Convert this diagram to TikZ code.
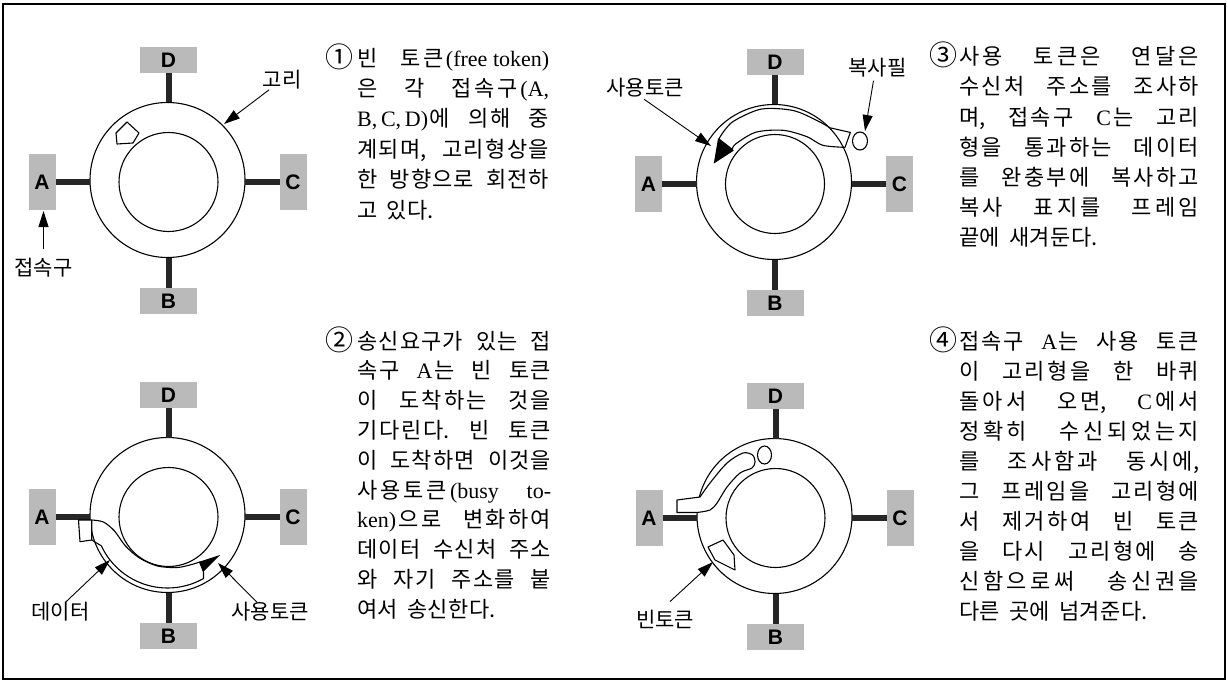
\documentclass[tikz,border=0pt]{standalone}
\usepackage{fontspec}
\setmainfont{Noto Sans CJK KR}
\newfontfamily\latf{Liberation Serif}
\newfontfamily\portf{Liberation Sans}
\usetikzlibrary{arrows.meta}
\newcommand\ltn[1]{{\latf #1}}
\ExplSyntaxOn
\bool_new:N \l__jl_first_bool
\cs_new_protected:Npn \__jl_items:nnn #1 #2 #3
  {
    \bool_set_true:N \l__jl_first_bool
    \tl_map_inline:nn {#3}
      {
        \str_if_eq:nnTF {##1} {|}
          { \skip_horizontal:n {#1} \bool_set_true:N \l__jl_first_bool }
          {
            \bool_if:NF \l__jl_first_bool { \skip_horizontal:n {#2} }
            ##1
            \bool_set_false:N \l__jl_first_bool
          }
      }
  }
\cs_new_protected:Npn \jline #1 #2
  { \hbox_to_wd:nn {#1} { \__jl_items:nnn {3pt plus 1fil} {0pt plus 0.12fil} {#2} } }
\cs_new_protected:Npn \jnat #1
  { \hbox:n { \__jl_items:nnn {9pt} {0.5pt} {#1} } }
\ExplSyntaxOff
\tikzset{
  ring/.style={circle, draw, line width=1.1pt, inner sep=0pt, outer sep=0pt, minimum size=155pt},
  innerring/.style={circle, draw, line width=1.1pt, inner sep=0pt, outer sep=0pt, minimum size=99pt},
  portbox/.style={fill=black!27, inner sep=0pt, outer sep=0pt, font=\portf\bfseries\fontsize{21}{21}\selectfont},
  porth/.style={portbox, minimum width=27pt, minimum height=56pt},
  portv/.style={portbox, minimum width=57pt, minimum height=26pt},
  stem/.style={line width=6pt, black!85},
  tok/.style={line width=1.1pt, line join=round},
  lab/.style={inner sep=0pt, font=\fontsize{21}{24}\selectfont},
  labarrow/.style={line width=0.9pt, -{Triangle[length=16pt,width=10pt]}},
  para/.style={anchor=base west, inner sep=0pt, font=\fontsize{22}{24}\selectfont},
  num/.style={anchor=base, inner sep=0pt, font=\fontsize{28}{28}\selectfont},
}
\newcommand\ringset[1]{%
  \node[portv] (D#1) at (1,-120) {D};
  \node[portv] (B#1) at (1,121) {B};
  \node[porth] (A#1) at (-125.5,2) {A};
  \node[porth] (C#1) at (125.5,2) {C};
  \node[ring] (R#1) at (0,0) {};
  \node[innerring] (I#1) at (1,2) {};
  \draw[stem] (D#1.south) -- (D#1.south |- R#1.north);
  \draw[stem] (B#1.north) -- (B#1.north |- R#1.south);
  \draw[stem] (A#1.east) -- (A#1.east -| R#1.west);
  \draw[stem] (C#1.west) -- (C#1.west -| R#1.east);
}
\begin{document}
\begin{tikzpicture}[x=1pt,y=-1pt]
\useasboundingbox (0,0) rectangle (1228,682);
\draw[line width=1.6pt] (3,4) rectangle (1225,679);

% ---------- diagram 1
\begin{scope}[shift={(167.5,180)}]
  \ringset{1}
  \draw[tok] (-50.5,-36) -- (-51.5,-47) -- (-40.5,-58) -- (-28.5,-47) -- (-34.5,-37) -- cycle;
\end{scope}
\node[lab] (goriL) at (282,80) {고리};
\coordinate (goriT) at (224,124);
\draw[labarrow] (goriL) -- (goriT);
\node[lab] (portL) at (43.5,268) {접속구};
\coordinate (portT) at (43.5,211);
\draw[labarrow] ([yshift=9pt]portL.north) -- (portT);

% ---------- diagram 2
\begin{scope}[shift={(167.5,515)}]
  \ringset{2}
  \draw[tok] plot[smooth] coordinates {(-75.8,5) (-64,7) (-53,16) (-42,31) (-28,43) (-10,51) (10,52.5) (26,49) (32,47)}
     -- (36,57) -- (36,63.5)
     -- plot[domain=61:155,samples=30] ({73*cos(\x)},{73*sin(\x)}) -- (-75.8,25);
  \draw[tok, fill=white] (-89,5) -- (-75.8,5) -- (-75.8,25) -- (-87.5,26.7) -- cycle;
  \fill (31.8,46.7) -- (52.5,40) -- (35.8,56.7) -- cycle;
\end{scope}
\node[lab] (dataL) at (60.5,612) {데이터};
\coordinate (dataT) at (110,560);
\draw[labarrow] ([xshift=5pt]dataL.north) -- (dataT);
\node[lab] (busyL2) at (270,612) {사용토큰};
\coordinate (busyT2) at (218,563);
\draw[labarrow] ([xshift=-13pt]busyL2.north) -- (busyT2);

% ---------- diagram 3
\begin{scope}[shift={(774,182)}]
  \ringset{3}
  \draw[tok] plot[smooth] coordinates {(218:70) (235:73) (260:74) (285:74) (305:75) (316:78)}
     -- (327:91) -- (334:79)
     -- plot[smooth] coordinates {(334:79) (323:61) (306:56) (280:52.5) (250:53) (225:54) (218:53)} -- cycle;
  \fill (218:71) -- (197:63) -- (218:51) -- cycle;
  \draw[tok] (86,-41) ellipse [x radius=7.5, y radius=9];
\end{scope}
\node[lab] (busyL3) at (645,87.5) {사용토큰};
\coordinate (busyT3) at (711,146);
\draw[labarrow] ([xshift=-1pt,yshift=-2pt]busyL3.south) -- (busyT3);
\node[lab] (copyL) at (877.5,68) {복사필};
\coordinate (copyT) at (865,131);
\draw[labarrow] ([xshift=-4pt,yshift=-3pt]copyL.south) -- (copyT);

% ---------- diagram 4
\begin{scope}[shift={(774.5,516)}]
  \ringset{4}
  \draw[tok, fill=white] (-97.5,-16) -- plot[smooth] coordinates {(-74.5,-19) (-64.5,-33) (-47.5,-53) (-31.5,-63) (-22,-61) (-19.5,-54) (-22.5,-48) (-34.5,-43) (-47.5,-29) (-57.5,-13) (-64.5,-6) (-77.5,-3.5)} -- (-97.5,-3.5) -- cycle;
  \draw[tok] (-10,-61) ellipse [x radius=7, y radius=9];
  \draw[tok] (-66.5,31) -- (-51.5,24) -- (-40.5,39) -- (-39.5,54) -- (-59.5,44) -- cycle;
\end{scope}
\node[lab] (freeL) at (665,619) {빈토큰};
\coordinate (freeT) at (713,562);
\draw[labarrow] ([xshift=5pt,yshift=8pt]freeL.north) -- (freeT);

% ---------- text 1
\node[num] (n1) at (339,68) {①};
\node[para] (t1a) at (357,67) {\jline{192pt}{빈|토큰{\ltn{(free token)}}}};
\node[para] (t1b) at (357,97) {\jline{192pt}{은|각|접속구{\ltn{(A,}}}};
\node[para] (t1c) at (357,127) {\jline{192pt}{{\ltn{B,\,C,\,D)}}에|의해|중}};
\node[para] (t1d) at (357,157.5) {\jline{192pt}{계되{며,}|고리형상을}};
\node[para] (t1e) at (357,187.5) {\jline{192pt}{한|방향으로|회전하}};
\node[para] (t1f) at (357,218) {\jnat{고|있{다.}}};

% ---------- text 2
\node[num] (n2) at (339,350) {②};
\node[para] (t2a) at (357,349) {\jline{194pt}{송신요구가|있는|접}};
\node[para] (t2b) at (357,378.8) {\jline{194pt}{속구|{\ltn{A}}는|빈|토큰}};
\node[para] (t2c) at (357,408.6) {\jline{194pt}{이|도착하는|것을}};
\node[para] (t2d) at (357,438.4) {\jline{194pt}{기다린{다.}|빈|토큰}};
\node[para] (t2e) at (357,468.2) {\jline{194pt}{이|도착하면|이것을}};
\node[para] (t2f) at (357,498) {\jline{194pt}{사용토큰{\ltn{(busy}}|{\ltn{to-}}}};
\node[para] (t2g) at (357,527.8) {\jline{194pt}{{\ltn{ken)}}으로|변화하여}};
\node[para] (t2h) at (357,557.6) {\jline{194pt}{데이터|수신처|주소}};
\node[para] (t2i) at (357,587.4) {\jline{194pt}{와|자기|주소를|붙}};
\node[para] (t2j) at (357,617.2) {\jnat{여서|송신한{다.}}};

% ---------- text 3
\node[num] (n3) at (943.5,66) {③};
\node[para] (t3a) at (959,65) {\jline{240pt}{사용|토큰은|연달은}};
\node[para] (t3b) at (959,95) {\jline{240pt}{수신처|주소를|조사하}};
\node[para] (t3c) at (959,125) {\jline{240pt}{{며,}|접속구|{\ltn{C}}는|고리}};
\node[para] (t3d) at (959,155) {\jline{240pt}{형을|통과하는|데이터}};
\node[para] (t3e) at (959,185) {\jline{240pt}{를|완충부에|복사하고}};
\node[para] (t3f) at (959,215) {\jline{240pt}{복사|표지를|프레임}};
\node[para] (t3g) at (959,245) {\jnat{끝에|새겨둔{다.}}};

% ---------- text 4
\node[num] (n4) at (943.5,350) {④};
\node[para] (t4a) at (959,349) {\jline{240pt}{접속구|{\ltn{A}}는|사용|토큰}};
\node[para] (t4b) at (959,379) {\jline{240pt}{이|고리형을|한|바퀴}};
\node[para] (t4c) at (959,409) {\jline{240pt}{돌아서|오{면,}|{\ltn{C}}에서}};
\node[para] (t4d) at (959,439) {\jline{240pt}{정확히|수신되었는지}};
\node[para] (t4e) at (959,469) {\jline{240pt}{를|조사함과|동시{에,}}};
\node[para] (t4f) at (959,499) {\jline{240pt}{그|프레임을|고리형에}};
\node[para] (t4g) at (959,529) {\jline{240pt}{서|제거하여|빈|토큰}};
\node[para] (t4h) at (959,559) {\jline{240pt}{을|다시|고리형에|송}};
\node[para] (t4i) at (959,589) {\jline{240pt}{신함으로써|송신권을}};
\node[para] (t4j) at (959,619) {\jnat{다른|곳에|넘겨준{다.}}};
\end{tikzpicture}
\end{document}
